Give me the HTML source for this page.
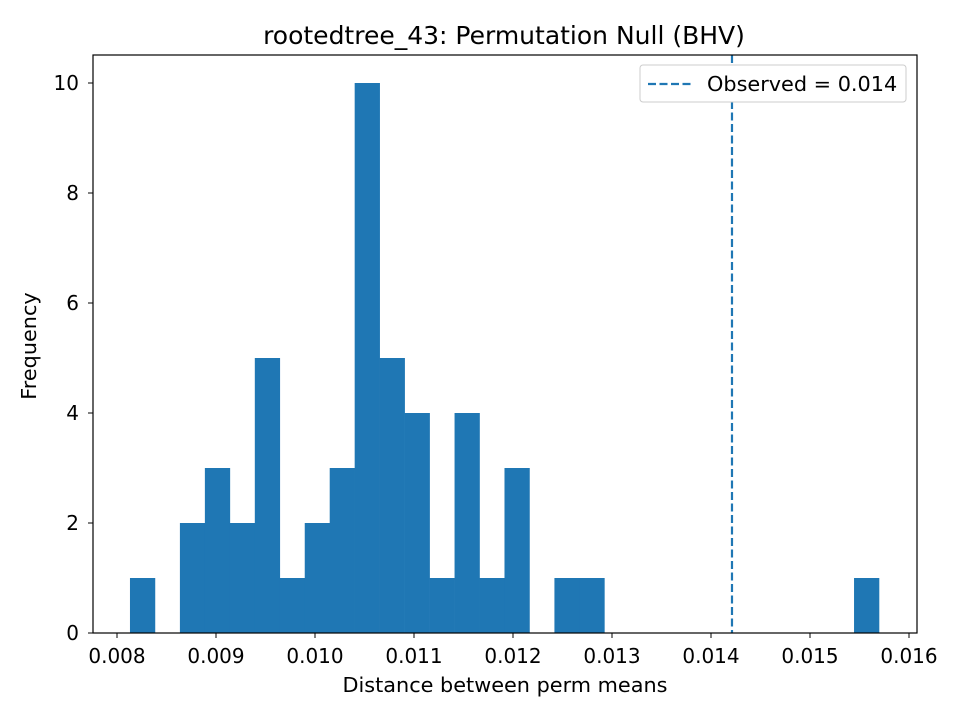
<!DOCTYPE html>
<html><head><meta charset="utf-8"><style>
body{margin:0;background:#fff}
svg text{font-family:"DejaVu Sans","Liberation Sans",sans-serif;fill:#000}
</style></head><body>
<svg id="chart" width="960" height="720" viewBox="0 0 960 720" xmlns="http://www.w3.org/2000/svg">
<rect width="960" height="720" fill="#fff"/>
<text x="504" y="44" font-size="25" text-anchor="middle">rootedtree_43: Permutation Null (BHV)</text>
<g id="bars"></g>
<g id="xticks"></g>
<g id="yticks"></g>
<line id="obs" stroke="#1f77b4" stroke-width="2.2" stroke-dasharray="8,3.5"/>
<rect x="93" y="55" width="824" height="578" fill="none" stroke="#000" stroke-width="1.2"/>
<text x="505" y="692" font-size="20.8" text-anchor="middle">Distance between perm means</text>
<text x="0" y="0" font-size="20.8" text-anchor="middle" transform="translate(36,346) rotate(-90)">Frequency</text>
<g>
<rect x="640" y="65" width="266" height="37" rx="3" fill="#fff" stroke="#ccc"/>
<line x1="648" y1="84" x2="692" y2="84" stroke="#1f77b4" stroke-width="2.2" stroke-dasharray="8,3.5"/>
<text x="707" y="91" font-size="20.8">Observed = 0.014</text>
</g>
</svg>
<script>
const binStart = 0.008131;
const binEnd = 0.015697;
const counts = [1,0,2,3,2,5,1,2,3,10,5,4,1,4,1,3,0,1,1,0,0,0,0,0,0,0,0,0,0,1];
const observed = 0.014212;
const xTicks = [0.008,0.009,0.010,0.011,0.012,0.013,0.014,0.015,0.016];
const xTickLabels = ["0.008","0.009","0.010","0.011","0.012","0.013","0.014","0.015","0.016"];
const yTicks = [0,2,4,6,8,10];
const NS="http://www.w3.org/2000/svg";
function xs(v){return 117+(v-0.008)*99000;}
function ys(v){return 633-v*55;}
const bars=document.getElementById('bars');
const bw=(binEnd-binStart)/counts.length;
counts.forEach((c,i)=>{
  if(!c)return;
  const r=document.createElementNS(NS,'rect');
  const x0=xs(binStart+i*bw),x1=xs(binStart+(i+1)*bw);
  r.setAttribute('x',x0);r.setAttribute('width',x1-x0+0.3);
  r.setAttribute('y',ys(c));r.setAttribute('height',ys(0)-ys(c));
  r.setAttribute('fill','#1f77b4');
  
  
  bars.appendChild(r);
});
const xg=document.getElementById('xticks');
xTicks.forEach((v,i)=>{
  const l=document.createElementNS(NS,'line');
  l.setAttribute('x1',xs(v));l.setAttribute('x2',xs(v));l.setAttribute('y1',633);l.setAttribute('y2',638);l.setAttribute('stroke','#000');
  
  
  xg.appendChild(l);
  const t=document.createElementNS(NS,'text');
  t.setAttribute('x',xs(v));t.setAttribute('y',663);t.setAttribute('font-size','20');t.setAttribute('text-anchor','middle');
  t.textContent=xTickLabels[i];
  
  
  xg.appendChild(t);
});
const yg=document.getElementById('yticks');
yTicks.forEach(v=>{
  const l=document.createElementNS(NS,'line');
  l.setAttribute('x1',88);l.setAttribute('x2',93);l.setAttribute('y1',ys(v));l.setAttribute('y2',ys(v));l.setAttribute('stroke','#000');
  
  
  yg.appendChild(l);
  const t=document.createElementNS(NS,'text');
  t.setAttribute('x',79);t.setAttribute('y',ys(v)+7);t.setAttribute('font-size','20');t.setAttribute('text-anchor','end');
  t.textContent=v;
  
  
  yg.appendChild(t);
});
const o=document.getElementById('obs');
o.setAttribute('x1',xs(observed));o.setAttribute('x2',xs(observed));o.setAttribute('y1',55);o.setAttribute('y2',633);
</script>
</body></html>
